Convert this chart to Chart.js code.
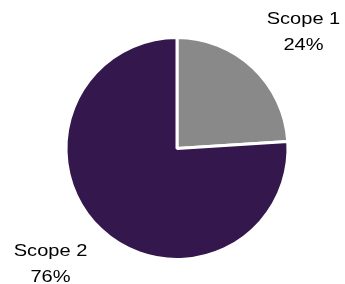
<!DOCTYPE html>
<html>
<head>
<meta charset="utf-8">
<script src="https://cdn.jsdelivr.net/npm/chart.js@4"></script>
<style>
    html, body { margin: 0; padding: 0; background: #ffffff; }
    #wrap { width: 345px; height: 284px; }
</style>
</head>
<body>
<div id="wrap"><canvas id="graph" width="345" height="284"></canvas></div>
<script>
const categories = ['Scope 1', 'Scope 2'];
const shares = [24, 76];
const slice_colors = ['#898989', '#33174D'];

// Excel-style outside labels: anchor just past the rim, text box pushed away from it
const outside_labels = {
    id: 'outside_labels',
    afterDraw(chart) {
        const ctx = chart.ctx;
        const arcs = chart.getDatasetMeta(0).data;
        const stretch = 1.18;
        const line_gap = 13;
        ctx.save();
        ctx.fillStyle = '#000000';
        ctx.font = '17px "Liberation Sans", Arial, sans-serif';
        ctx.textAlign = 'center';
        ctx.textBaseline = 'middle';
        for (let i = 0; i < arcs.length; ++i) {
            const arc = arcs[i];
            const mid = (arc.startAngle + arc.endAngle) / 2;
            const cos = Math.cos(mid);
            const sin = Math.sin(mid);
            const ax = arc.x + cos * arc.outerRadius * 1.18;
            const ay = arc.y + sin * arc.outerRadius * 1.15;
            const lines = [categories[i], shares[i] + '%'];
            let w = 0;
            for (const l of lines) {
                w = Math.max(w, ctx.measureText(l).width * stretch);
            }
            const h = line_gap * 2 + 20;
            const cx = ax + Math.sign(cos) * w / 2;
            const cy = ay + Math.sign(sin) * h / 2;
            ctx.save();
            ctx.translate(cx, cy);
            ctx.scale(stretch, 1);
            ctx.fillText(lines[0], 0, -line_gap);
            ctx.fillText(lines[1], 0, line_gap);
            ctx.restore();
        }
        ctx.restore();
    }
};

new Chart(document.getElementById('graph'), {
    type: 'pie',
    data: {
        labels: categories,
        datasets: [{
            data: shares,
            backgroundColor: slice_colors,
            borderColor: '#ffffff',
            borderWidth: 3
        }]
    },
    options: {
        responsive: false,
        animation: false,
        layout: { padding: { top: 36, bottom: 23, left: 64, right: 55 } },
        plugins: {
            legend: { display: false },
            tooltip: { enabled: false }
        }
    },
    plugins: [outside_labels]
});
</script>
</body>
</html>
